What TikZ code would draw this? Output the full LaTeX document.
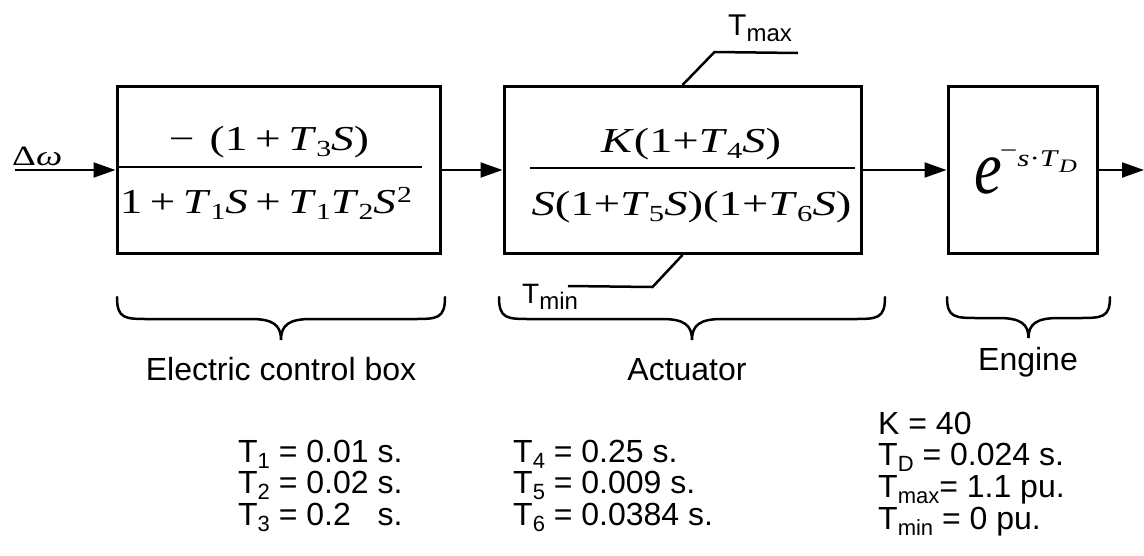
\documentclass[tikz,border=0pt]{standalone}
\usepackage{fontspec}
\usepackage{graphicx}
\setmainfont{Liberation Sans}
\newfontfamily\tms{Liberation Serif}
\usetikzlibrary{arrows.meta}

% lowered / raised small text for indices and powers
\newcommand\lo[2][22]{\raisebox{-6pt}{\fontsize{#1}{#1}\selectfont #2}}
\newcommand\hi[2][22]{\raisebox{11pt}{\fontsize{#1}{#1}\selectfont #2}}
\newcommand\mi[1]{\textit{#1}}
% stretch a formula to a given width, keeping its height
\newcommand\spread[2]{\resizebox{#1}{\height}{#2}}

% under-brace between x0 and x1: top y, bar y, tip y
\newcommand\ubrace[5]{%
  \draw[bracepen] (#1,#3) .. controls (#1,#4) and ({#1+8},#4) .. ({#1+32},#4)
    -- ({(#1+#2)/2-30},#4) .. controls ({(#1+#2)/2-8},#4) and ({(#1+#2)/2},{#4+6}) .. ({(#1+#2)/2},#5)
    .. controls ({(#1+#2)/2},{#4+6}) and ({(#1+#2)/2+8},#4) .. ({(#1+#2)/2+30},#4)
    -- ({#2-32},#4) .. controls ({#2-8},#4) and (#2,#4) .. (#2,#3);}

\begin{document}
\begin{tikzpicture}[x=1pt,y=-1pt,
  block/.style={draw, line width=3pt, minimum width=#1, minimum height=167pt, inner sep=0pt},
  flow/.style={line width=2pt, -{Triangle[length=22pt,width=15pt]}},
  limitline/.style={line width=2.5pt},
  fracline/.style={line width=2.5pt},
  bracepen/.style={line width=2.5pt, line cap=round},
  formula/.style={anchor=base, inner sep=0pt, font=\tms\fontsize{35}{35}\selectfont},
  label/.style={anchor=base, inner sep=0pt, font=\fontsize{32}{32}\selectfont},
  param/.style={anchor=base west, inner sep=0pt, font=\fontsize{32}{32}\selectfont},
]
\useasboundingbox (0,0) rectangle (1144,555);

% blocks
\node[block=323pt] (ecb) at (278.5,170) {};
\node[block=357pt] (act) at (682.5,170) {};
\node[block=149pt] (eng) at (1022.5,170) {};

% electric control box transfer function
\node[formula] (ecbnum) at (269,150) {\spread{200pt}{−\,\,(1\,+\,\mi{T}\lo[23]{3}\mi{S})}};
\node[formula] (ecbden) at (266,213) {\spread{292pt}{1\,+\,\mi{T}\lo[23]{1}\mi{S}\,+\,\mi{T}\lo[23]{1}\mi{T}\lo[23]{2}\mi{S}\kern1pt\hi[23]{2}}};
\draw[fracline] (116,167) -- (422,167);

% actuator transfer function
\node[formula] (actnum) at (691,152) {\spread{180pt}{\mi{K}(1+\mi{T}\lo[23]{4}\mi{S})}};
\node[formula] (actden) at (691.5,215) {\spread{320pt}{\mi{S}(1+\mi{T}\lo[23]{5}\mi{S})(1+\mi{T}\lo[23]{6}\mi{S})}};
\draw[fracline] (530,168) -- (855,168);

% engine delay e^{-s T_D}
\node[anchor=base west, inner sep=0pt, font=\tms\fontsize{24}{24}\selectfont] (delay) at (974,193)
  {\scalebox{0.82}[1]{\fontsize{76}{76}\selectfont\itshape e}\kern-2pt%
   \raisebox{27pt}{\spread{77pt}{\raisebox{8pt}{−}\mi{s}·\mi{T}\lo[19]{\mi{D}}}}};

% signal flow
\coordinate (in) at (15,170);
\coordinate (out) at (1144,170);
\node[anchor=base west, inner sep=0pt, font=\tms\fontsize{28}{28}\selectfont] (dw) at (12,165) {\spread{50pt}{Δ\mi{ω}}};
\draw[flow] (in) -- (ecb.west);
\draw[flow] (ecb.east) -- (act.west);
\draw[flow] (act.east) -- (eng.west);
\draw[flow] (eng.east) -- (out);

% actuator limits
\coordinate (tmaxend) at (798,53);
\coordinate (tminend) at (568,286);
\draw[limitline] (act.north) -- ++(32,-33) -- (tmaxend);
\draw[limitline] (act.south) -- ++(-30,32) -- (tminend);
\node[anchor=base west, inner sep=0pt, font=\fontsize{30}{30}\selectfont] (tmax) at (728,35) {T\lo[24]{max}};
\node[anchor=base west, inner sep=0pt, font=\fontsize{28}{28}\selectfont] (tmin) at (522,303) {T\lo[24]{min}};

% braces and stage names
\ubrace{117}{445}{297}{319}{340}
\ubrace{499}{885}{297}{319}{340}
\ubrace{947}{1110}{297}{318}{338}
\node[label] (lecb) at (281,380) {Electric control box};
\node[label] (lact) at (687,380) {Actuator};
\node[label] (leng) at (1028,370) {Engine};

% parameters
\node[param] (p1) at (238,462) {T\lo{1} = 0.01 s.};
\node[param] (p2) at (238,493) {T\lo{2} = 0.02 s.};
\node[param] (p3) at (238,525) {T\lo{3} = 0.2\phantom{0} s.};
\node[param] (p4) at (513,462) {T\lo{4} = 0.25 s.};
\node[param] (p5) at (513,493) {T\lo{5} = 0.009 s.};
\node[param] (p6) at (513,525) {T\lo{6} = 0.0384 s.};
\node[param] (pk) at (878,434) {K = 40};
\node[param] (pd) at (878,465) {T\lo{D} = 0.024 s.};
\node[param] (pmax) at (878,497) {T\lo{max}= 1.1 pu.};
\node[param] (pmin) at (878,529) {T\lo{min} = 0 pu.};
\end{tikzpicture}
\end{document}
